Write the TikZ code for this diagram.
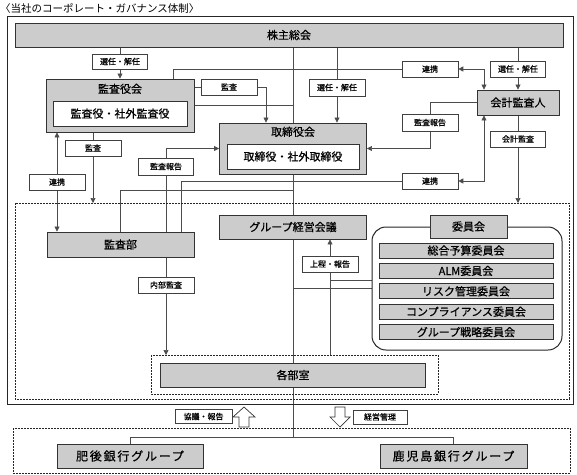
\documentclass[tikz,border=0pt]{standalone}
\usepackage{fontspec}
\setmainfont{Noto Sans CJK JP}
\newfontfamily\boxfont[FakeBold=0.6]{Noto Sans CJK JP}
\newfontfamily\widefont[LetterSpace=15,FakeBold=0.6]{Noto Sans CJK JP}
\usetikzlibrary{positioning,calc,backgrounds,arrows.meta}

\tikzset{
  gbox/.style={draw=black!80, fill=black!20, line width=0.9pt, inner sep=0pt, font=\boxfont\fontsize{11}{12}\selectfont},
  wbox/.style={draw=black!80, fill=white, line width=0.9pt, inner sep=0pt, font=\boxfont\fontsize{11}{12}\selectfont},
  title/.style={inner sep=0pt, font=\boxfont\fontsize{11}{12}\selectfont},
  lbl/.style={draw=black!75, fill=white, line width=0.6pt, inner sep=0pt, minimum width=56pt, minimum height=16pt, font=\boxfont\fontsize{8}{9}\selectfont},
  conn/.style={draw=black!70, line width=0.7pt},
  arr/.style={conn, -{Triangle[length=5pt,width=5pt]}},
  arrs/.style={conn, {Triangle[length=5pt,width=5pt]}-{Triangle[length=5pt,width=5pt]}},
  dotbox/.style={draw=black!85, line width=0.9pt, dash pattern=on 1.8pt off 1.2pt},
  rowbox/.style={gbox, line width=0.7pt, minimum width=174pt, minimum height=15pt},
  hollow/.style={draw=black!80, line width=0.7pt, fill=white}
}

\begin{document}
\begin{tikzpicture}[x=1pt,y=-1pt]
  \useasboundingbox (0,0) rectangle (577,474);

  % タイトル
  \node[anchor=west, inner sep=0pt, font=\fontsize{10.5}{11}\selectfont] (head) at (0,8) {〈当社のコーポレート・ガバナンス体制〉};

  % 枠
  \draw[line width=1pt, black!85] (7,16) rectangle (573,404);
  \coordinate (dashNW) at (15,203);
  \coordinate (dashSE) at (569,399);
  \draw[dotbox] (dashNW) rectangle (dashSE);
  \coordinate (innerNW) at (151,355);
  \draw[dotbox] (innerNW) rectangle (438,394);
  \draw[dotbox] (13,428) rectangle (570,473);

  % 株主総会
  \node[gbox, minimum width=548pt, minimum height=24pt] (sh) at (289,35) {株主総会};

  % 監査役会
  \node[gbox, minimum width=148pt, minimum height=53pt] (kan) at (120,105.5) {};
  \node[title, below=5pt of kan.north] (kantitle) {監査役会};
  \node[wbox, minimum width=134pt, minimum height=25pt] (kanin) at (120,113.5) {監査役・社外監査役};

  % 取締役会
  \node[gbox, minimum width=147pt, minimum height=51pt] (tori) at (293,148.5) {};
  \node[title, below=4pt of tori.north] (torititle) {取締役会};
  \node[wbox, minimum width=132pt, minimum height=25pt] (toriin) at (293,156.5) {取締役・社外取締役};

  % 会計監査人
  \node[gbox, minimum width=82pt, minimum height=25pt] (kaikei) at (518,102.5) {会計監査人};

  % 執行
  \node[gbox, minimum width=147pt, minimum height=25pt] (kansabu) at (120.5,244.5) {監査部};
  \node[gbox, minimum width=147pt, minimum height=24pt] (grp) at (293,227) {グループ経営会議};
  \node[gbox, minimum width=265pt, minimum height=24pt] (kaku) at (293,375) {各部室};

  % 委員会
  \node[draw=black!85, fill=white, line width=1pt, rounded corners=14pt, minimum width=190pt, minimum height=123pt] (comm) at (467,288.5) {};
  \node[gbox, minimum width=77pt, minimum height=23pt] (commtitle) at (468.5,226.5) {委員会};
  \foreach \name [count=\i from 0] in {総合予算委員会, ALM委員会, リスク管理委員会, コンプライアンス委員会, グループ戦略委員会}
    \node[rowbox] (row\i) at (466,250.5+20.4*\i) {\name};

  % グループ会社
  \node[gbox, minimum width=146pt, minimum height=24pt, font=\widefont\fontsize{12}{13}\selectfont] (higo) at (130,456) {肥後銀行グループ};
  \node[gbox, minimum width=147pt, minimum height=24pt, font=\widefont\fontsize{12}{13}\selectfont] (kago) at (453.5,456) {鹿児島銀行グループ};

  % ラベル
  \node[lbl, minimum width=55pt, minimum height=15pt] (l1) at (120,61.5) {選任・解任};
  \node[lbl] (l2) at (229,87) {監査};
  \node[lbl] (l3) at (430,69) {連携};
  \node[lbl, minimum height=17pt] (l4) at (337,87.5) {選任・解任};
  \node[lbl, minimum width=55pt] (l5) at (518,69) {選任・解任};
  \node[lbl, minimum height=17pt] (l6) at (430,122.5) {監査報告};
  \node[lbl, minimum width=55pt] (l7) at (518,139) {会計監査};
  \node[lbl] (l8) at (430,181) {連携};
  \node[lbl] (l9) at (93,148) {監査};
  \node[lbl] (l10) at (57,182) {連携};
  \node[lbl, minimum width=55pt, minimum height=17pt] (l11) at (166,166.5) {監査報告};
  \node[lbl] (l12) at (166,285) {内部監査};
  \node[lbl] (l13) at (330,264) {上程・報告};
  \node[lbl, minimum width=57pt, minimum height=14pt] (l14) at (203.5,416.5) {協議・報告};
  \node[lbl, minimum width=54pt, minimum height=14pt] (l15) at (380,417) {経営管理};

  % 矢印
  \draw[hollow] (239,427) -- (249,427) -- (249,417) -- (255,417) -- (244,407) -- (233,417) -- (239,417) -- cycle;
  \draw[hollow] (335,407) -- (345,407) -- (345,417) -- (350,417) -- (340,427) -- (330,417) -- (335,417) -- cycle;

  \coordinate (branch) at ($(kaku.south)+(0,50)$);
  \coordinate (commup) at ($(comm.west)+(0,-8.5)$);

  % 接続線
  \begin{scope}[on background layer]
    \draw[conn] (sh.south -| tori.north) -- (branch);
    \draw[conn] (higo.north) |- (branch) -| (kago.north);
    \draw[arr] (l1 |- sh.south) -- (l1 |- kan.north);
    \draw[arr] (l4 |- sh.south) -- (l4 |- tori.north);
    \draw[arr] (l5 |- sh.south) -- (l5 |- kaikei.north);
    \draw[arrs] ($(kan.north)+(53,0)$) |- (l3) -| ($(kaikei.north)+(-34,0)$);
    \draw[arr] (kan.east |- l2) -- (l2) -| ($(tori.north)+(-27,0)$);
    \draw[conn] (kan.east) -- (kan.east -| tori.north);
    \draw[arr] (kaikei.west) -| (l6) |- (tori.east);
    \draw[arr] (kaikei.south) -- (kaikei.south |- dashNW);
    \draw[arrs] ($(kansabu.north)+(60.5,0)$) |- (l8) -| ($(kaikei.south)+(-34,0)$);
    \draw[conn] (kansabu.north) |- ($(tori.south)+(0,16)$);
    \draw[arr] ($(kansabu.north)+(45.5,0)$) |- (tori.west);
    \draw[arr] (l9 |- kan.south) -- (l9 |- dashNW);
    \draw[arrs] (l10 |- kan.south) -- (l10 |- kansabu.north);
    \draw[arr] (l12 |- kansabu.south) -- (l12 |- innerNW);
    \draw[arr] (l13 |- innerNW) -- (l13 |- grp.south);
    \draw[conn] (commup) -- (commup -| l13);
    \draw[conn] (comm.west) -- (comm.west -| tori.north);
  \end{scope}
\end{tikzpicture}
\end{document}
